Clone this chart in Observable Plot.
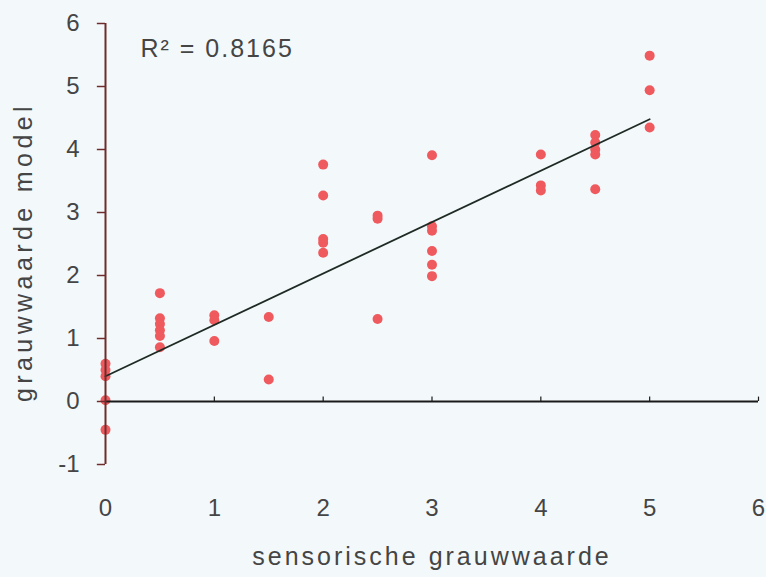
<!DOCTYPE html>
<html>
<head>
<meta charset="utf-8">
<script src="https://cdn.jsdelivr.net/npm/d3@7"></script>
<script src="https://cdn.jsdelivr.net/npm/@observablehq/plot@0.6"></script>
<style>
  html, body { margin: 0; padding: 0; background: #f3f9fb; }
  #chart svg { display: block; }
  .xtitle text { letter-spacing: 3px; }
  .ytitle text { letter-spacing: 4.4px; }
  .r2 text { letter-spacing: 2px; }
</style>
</head>
<body>
<div id="chart"></div>
<script>
// sensory grey value (x) and model grey value (y)
const sensorisch = [
  0, 0, 0, 0, 0,
  0.5, 0.5, 0.5, 0.5, 0.5, 0.5,
  1, 1, 1,
  1.5, 1.5,
  2, 2, 2, 2, 2,
  2.5, 2.5, 2.5,
  3, 3, 3, 3, 3, 3,
  4, 4, 4,
  4.5, 4.5, 4.5, 4.5, 4.5,
  5, 5, 5
];
const model = [
  0.6, 0.5, 0.4, 0.02, -0.45,
  1.72, 1.32, 1.23, 1.13, 1.04, 0.86,
  1.37, 1.29, 0.96,
  1.34, 0.35,
  3.76, 3.27, 2.58, 2.52, 2.36,
  2.95, 2.9, 1.31,
  3.91, 2.78, 2.71, 2.39, 2.17, 1.99,
  3.92, 3.43, 3.35,
  4.23, 4.11, 4.0, 3.92, 3.37,
  5.49, 4.94, 4.35
];
const xTicks = [0, 1, 2, 3, 4, 5, 6];
const yTicks = [-1, 0, 1, 2, 3, 4, 5, 6];
const fitIntercept = 0.4;
const fitSlope = 0.816;
const fitRange = [0, 5];
const r2Label = "R\u00B2 = 0.8165";
const xTitle = "sensorische grauwwaarde";
const yTitle = "grauwwaarde model";

const points = sensorisch.map((x, i) => ({x, y: model[i]}));
const fit = fitRange.map(x => ({x, y: fitIntercept + fitSlope * x}));

const brown = "#6e2c2c";
const textColor = "#454545";

const chart = Plot.plot({
  width: 766,
  height: 577,
  marginLeft: 105,
  marginRight: 8,
  marginTop: 23,
  marginBottom: 113,
  style: {background: "#f3f9fb", fontFamily: "'Liberation Sans', Arial, sans-serif", color: textColor},
  x: {domain: [0, 6], axis: null, label: null},
  y: {domain: [-1, 6], axis: null, label: null},
  marks: [
    Plot.dot(points, {x: "x", y: "y", r: 5, fill: "#ef5a5e", stroke: "none"}),
    Plot.line(fit, {x: "x", y: "y", stroke: "#1f2a24", strokeWidth: 1.8}),
    Plot.ruleY([0], {stroke: "#1a1a1a", strokeWidth: 1.8}),
    Plot.ruleX(xTicks.slice(1), {x: d => d, y1: 0, y2: 0.07, stroke: "#1a1a1a", strokeWidth: 1.2}),
    Plot.ruleX([0], {stroke: brown, strokeWidth: 2}),
    Plot.ruleY(yTicks, {y: d => d, x1: -0.075, x2: 0, stroke: brown, strokeWidth: 1.5}),
    Plot.axisY(yTicks, {tickSize: 0, tickPadding: 26, fontSize: 24, fill: textColor, label: null, tickFormat: d => String(d)}),
    Plot.axisX(xTicks, {tickSize: 0, tickPadding: 34, fontSize: 24, fill: textColor, label: null, tickFormat: d => String(d)}),
    Plot.text([xTitle], {frameAnchor: "bottom", dy: 100, fontSize: 25, fill: textColor, className: "xtitle"}),
    Plot.text([yTitle], {frameAnchor: "left", dx: -82, dy: 8, rotate: -90, textAnchor: "middle", fontSize: 25, fill: textColor, className: "ytitle"}),
    Plot.text([r2Label], {frameAnchor: "top-left", dx: 35, dy: 16, fontSize: 25, fill: textColor, textAnchor: "start", className: "r2"})
  ]
});
document.getElementById("chart").append(chart);
</script>
</body>
</html>
